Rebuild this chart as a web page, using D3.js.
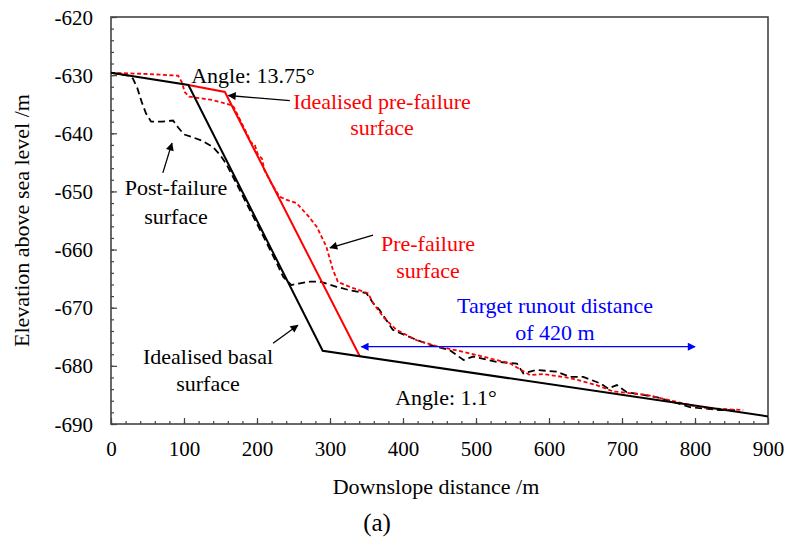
<!DOCTYPE html>
<html>
<head>
<meta charset="utf-8">
<script src="https://cdn.jsdelivr.net/npm/d3@7"></script>
<style>
  body { margin: 0; background: #fff; }
  text { font-family: "Liberation Serif", "Times New Roman", serif; }
</style>
</head>
<body>
<svg id="chart" width="789" height="545"></svg>
<script>
// Downslope profiles: [distance (m), elevation (m)]
const idealisedBasal = [[0, -629.6], [106, -631.7], [290, -677.4], [900, -688.7]];
const idealisedPreFailure = [[106, -631.7], [156, -632.9], [341, -678.4]];
const preFailure = [
  [0, -629.6], [50, -629.8], [92, -630.1], [97, -631.2], [101, -632.9], [107, -633.7],
  [140, -634.3], [163, -635.1], [167, -635.2], [180, -638.5], [192, -641.6], [197, -642.0],
  [201, -643.6], [207, -644.4], [210, -646.3], [220, -648.7], [231, -650.9], [240, -651.4],
  [254, -652.0], [270, -654.2], [282, -656.1], [295, -659.5], [304, -663.5], [311, -665.6],
  [331, -666.6], [352, -667.5], [359, -669.2], [373, -671.6], [391, -673.8], [419, -675.6],
  [446, -676.6], [483, -677.6], [519, -678.7], [547, -679.6], [574, -681.6], [592, -681.4],
  [629, -682.1], [665, -683.3], [688, -684.4], [734, -685.0], [775, -686.2], [802, -687.0],
  [820, -687.3], [866, -687.6]
];
const postFailure = [
  [0, -629.6], [25, -630.1], [30, -630.6], [36, -632.2], [42, -634.6], [48, -636.6],
  [55, -638.0], [70, -638.0], [85, -637.8], [92, -639.0], [100, -640.2], [110, -640.6],
  [125, -641.3], [140, -642.4], [150, -643.8], [158, -645.3], [170, -648.2], [185, -651.9],
  [200, -655.6], [215, -659.3], [228, -662.6], [236, -664.7], [247, -666.1], [259, -665.8],
  [273, -665.5], [286, -665.5], [309, -666.4], [327, -667.0], [350, -667.5], [359, -669.2],
  [368, -670.4], [386, -673.8], [414, -675.3], [437, -676.4], [464, -677.3], [483, -679.0],
  [496, -678.4], [528, -679.3], [556, -679.6], [565, -681.3], [583, -680.7], [610, -681.0],
  [629, -681.9], [647, -681.9], [670, -683.0], [681, -683.9], [693, -683.3], [706, -684.5],
  [748, -685.4], [770, -686.2], [793, -687.1], [834, -687.6], [857, -687.6]
];
// Target runout span (m)
const runout = [[343, -676.7], [800, -676.7]];

const xTicks = [0, 100, 200, 300, 400, 500, 600, 700, 800, 900];
const yTicks = [-620, -630, -640, -650, -660, -670, -680, -690];

const svg = d3.select("#chart");
const margin = { left: 111, right: 21, top: 17, bottom: 121 };
const W = 789, H = 545;
const x = d3.scaleLinear().domain([0, 900]).range([margin.left, W - margin.right]);
const y = d3.scaleLinear().domain([-690, -620]).range([H - margin.bottom, margin.top]);

const axisColor = "#444";
const hyphenFmt = d => String(d);   // plain hyphen-minus labels

// arrow markers
const defs = svg.append("defs");
function marker(id, color) {
  defs.append("marker").attr("id", id)
    .attr("viewBox", "0 0 10 10").attr("refX", 9).attr("refY", 5)
    .attr("markerWidth", 11).attr("markerHeight", 8)
    .attr("markerUnits", "userSpaceOnUse")
    .attr("orient", "auto-start-reverse")
    .append("path").attr("d", "M0,0 L10,5 L0,10 z").attr("fill", color);
}
marker("arrBlack", "#000");
marker("arrBlue", "#0000ff");

// Axes with inward ticks
const xMinor = d3.range(0, 901, 20);
const yMinor = d3.range(-690, -619, 2);

const gx = svg.append("g").attr("transform", `translate(0,${y(-690)})`);
gx.call(d3.axisBottom(x).tickValues(xMinor).tickSize(-3).tickFormat(""));
gx.select(".domain").remove();
gx.selectAll("line").attr("stroke", axisColor).attr("stroke-width", 1.2);
const gxMaj = svg.append("g").attr("transform", `translate(0,${y(-690)})`)
  .call(d3.axisBottom(x).tickValues(xTicks).tickSize(-6).tickFormat(hyphenFmt));
gxMaj.select(".domain").remove();
gxMaj.selectAll("line").attr("stroke", axisColor).attr("stroke-width", 1.2);
gxMaj.selectAll("text").attr("y", 32).attr("dy", 0).attr("font-size", 21).attr("fill", "#000")
  .style("font-family", "'Liberation Serif', serif");

const gy = svg.append("g").attr("transform", `translate(${x(0)},0)`);
gy.call(d3.axisLeft(y).tickValues(yMinor).tickSize(-3).tickFormat(""));
gy.select(".domain").remove();
gy.selectAll("line").attr("stroke", axisColor).attr("stroke-width", 1.2);
const gyMaj = svg.append("g").attr("transform", `translate(${x(0)},0)`)
  .call(d3.axisLeft(y).tickValues(yTicks).tickSize(-6).tickFormat(hyphenFmt));
gyMaj.select(".domain").remove();
gyMaj.selectAll("line").attr("stroke", axisColor).attr("stroke-width", 1.2);
gyMaj.selectAll("text").attr("x", -18).attr("dy", "0.34em").attr("font-size", 21).attr("fill", "#000")
  .style("font-family", "'Liberation Serif', serif");

// plot frame
svg.append("rect")
  .attr("x", x(0)).attr("y", y(-620))
  .attr("width", x(900) - x(0)).attr("height", y(-690) - y(-620))
  .attr("fill", "none").attr("stroke", axisColor).attr("stroke-width", 1.6);

const line = d3.line().x(d => x(d[0])).y(d => y(d[1]));

// profiles
svg.append("path").datum(postFailure).attr("d", line)
  .attr("fill", "none").attr("stroke", "#000").attr("stroke-width", 1.8)
  .attr("stroke-dasharray", "7,4");
svg.append("path").datum(preFailure).attr("d", line)
  .attr("fill", "none").attr("stroke", "#ff0000").attr("stroke-width", 1.8)
  .attr("stroke-dasharray", "4,2.5");
svg.append("path").datum(idealisedPreFailure).attr("d", line)
  .attr("fill", "none").attr("stroke", "#ff0000").attr("stroke-width", 2);
svg.append("path").datum(idealisedBasal).attr("d", line)
  .attr("fill", "none").attr("stroke", "#000").attr("stroke-width", 2);

// runout arrow
svg.append("line")
  .attr("x1", x(runout[0][0])).attr("y1", y(runout[0][1]))
  .attr("x2", x(runout[1][0])).attr("y2", y(runout[1][1]))
  .attr("stroke", "#0000ff").attr("stroke-width", 1.3)
  .attr("marker-start", "url(#arrBlue)").attr("marker-end", "url(#arrBlue)");

// pointer arrows [tail, head] in data units
const pointers = [
  [[245, -634.4], [161, -633.5]],
  [[71, -646.8], [83.5, -641.7]],
  [[359, -657.5], [300, -659.7]],
  [[222, -676.1], [256, -673.0]]
];
pointers.forEach(p => {
  svg.append("line")
    .attr("x1", x(p[0][0])).attr("y1", y(p[0][1]))
    .attr("x2", x(p[1][0])).attr("y2", y(p[1][1]))
    .attr("stroke", "#000").attr("stroke-width", 1.3)
    .attr("marker-end", "url(#arrBlack)");
});

// annotations
const notes = [
  { t: "Angle: 13.75°", x: 253, y: 83, c: "#000" },
  { t: "Idealised pre-failure", x: 382, y: 109, c: "#ff0000" },
  { t: "surface", x: 382, y: 135, c: "#ff0000" },
  { t: "Post-failure", x: 176, y: 195, c: "#000" },
  { t: "surface", x: 176, y: 224, c: "#000" },
  { t: "Pre-failure", x: 428, y: 251, c: "#ff0000" },
  { t: "surface", x: 428, y: 278, c: "#ff0000" },
  { t: "Target runout distance", x: 555, y: 313, c: "#0000ff" },
  { t: "of 420 m", x: 555, y: 340, c: "#0000ff" },
  { t: "Idealised basal", x: 208, y: 364, c: "#000" },
  { t: "surface", x: 208, y: 391, c: "#000" },
  { t: "Angle: 1.1°", x: 446, y: 405, c: "#000" }
];
svg.append("g").selectAll("text").data(notes).join("text")
  .attr("x", d => d.x).attr("y", d => d.y)
  .attr("text-anchor", "middle").attr("font-size", 22)
  .attr("fill", d => d.c).text(d => d.t);

// axis titles
svg.append("text").attr("x", 436).attr("y", 494)
  .attr("text-anchor", "middle").attr("font-size", 22).text("Downslope distance /m");
svg.append("text").attr("transform", `translate(29,${(y(-620) + y(-690)) / 2}) rotate(-90)`)
  .attr("text-anchor", "middle").attr("font-size", 22).text("Elevation above sea level /m");
svg.append("text").attr("x", 377).attr("y", 531)
  .attr("text-anchor", "middle").attr("font-size", 25).text("(a)");
</script>
</body>
</html>
